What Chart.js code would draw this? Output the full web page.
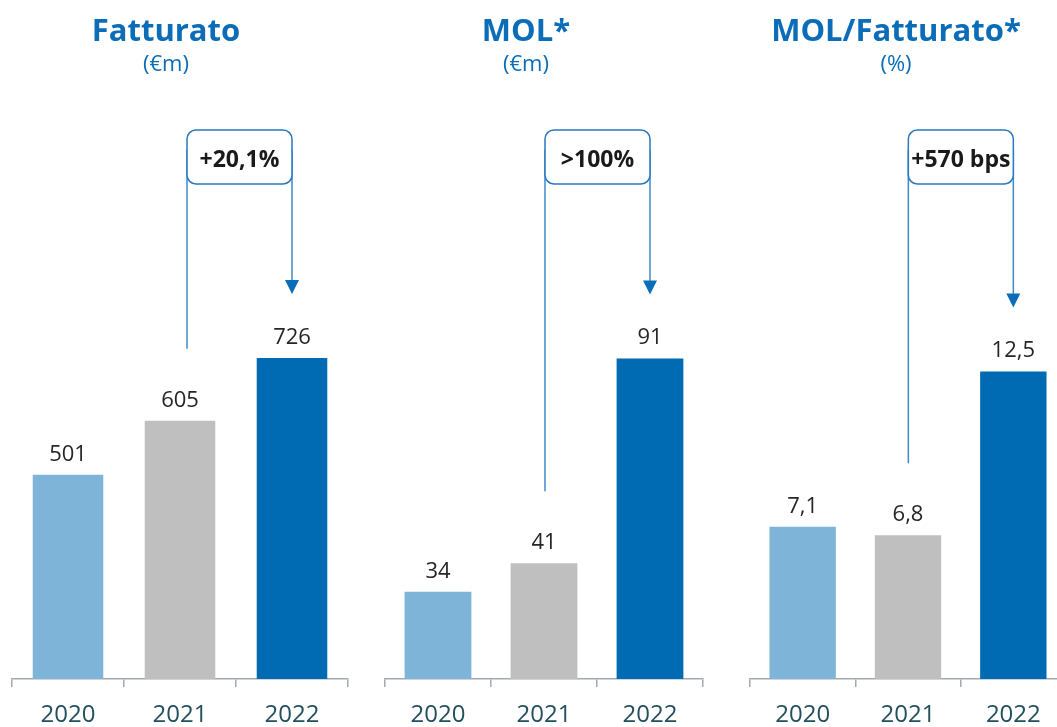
<!DOCTYPE html>
<html>
<head>
<meta charset="utf-8">
<script src="https://cdn.jsdelivr.net/npm/chart.js@4.4.1/dist/chart.umd.min.js"></script>
<style>
body{margin:0;background:#fff;overflow:hidden}
#wrap{position:relative;width:1057px;height:727px;overflow:hidden}
canvas{position:absolute;top:0}
</style>
</head>
<body>
<div id="wrap">
<canvas id="c1" width="360" height="744" style="left:0px"></canvas>
<canvas id="c2" width="342" height="744" style="left:373px"></canvas>
<canvas id="c3" width="340" height="744" style="left:738px"></canvas>
</div>
<script>
// data
var years = ["2020", "2021", "2022"]
var fatturato = [501, 605, 726]
var mol = [34, 41, 91]
var molFatturato = [7.1, 6.8, 12.5]
var titles = ["Fatturato", "MOL*", "MOL/Fatturato*"]
var subtitles = ["(€m)", "(€m)", "(%)"]
var deltas = ["+20,1%", ">100%", "+570 bps"]
// value axis ranges (axis is hidden, bars do not start at zero)
var axisMin = [106.3, 12.72, 1.804]
var axisMax = [1224.5, 154.1, 21.94]

var barColors = ["#7FB4D9", "#BFBFBF", "#006AB3"]
var blue = "#0B6DB7"
var font = '"Open Sans", "Noto Sans", sans-serif'

function fmt(v) {
    return String(v).replace(".", ",")
}

var decor = {
    id: "decor",
    afterDatasetsDraw: function(chart, args, opts) {
        var ctx = chart.ctx
        var bars = chart.getDatasetMeta(0).data
        var vals = chart.data.datasets[0].data
        ctx.save()
        ctx.textAlign = "center"
        ctx.textBaseline = "alphabetic"

        // titles
        ctx.fillStyle = blue
        ctx.font = "bold 31px " + font
        ctx.fillText(opts.title, opts.titleX, 41)
        ctx.font = "22px " + font
        ctx.fillText(opts.sub, opts.titleX, 71)

        // value labels
        ctx.fillStyle = "#262626"
        ctx.font = "22px " + font
        for (var i = 0; i < bars.length; i++) {
            ctx.fillText(fmt(vals[i]), bars[i].x, bars[i].y - 14)
        }

        // growth box + arrow
        var right = bars[2].x
        var left = right - 105
        var top = 130, bottom = 184
        var tipY = bars[2].y - 64
        ctx.strokeStyle = "#3F8BC9"
        ctx.lineWidth = 1.5
        ctx.beginPath()
        ctx.moveTo(left, top + 20)
        ctx.lineTo(left, bars[1].y - 72)
        ctx.moveTo(right, top + 20)
        ctx.lineTo(right, tipY - 12)
        ctx.stroke()

        ctx.fillStyle = blue
        ctx.beginPath()
        ctx.moveTo(right - 7, tipY - 14)
        ctx.lineTo(right + 7, tipY - 14)
        ctx.lineTo(right, tipY)
        ctx.closePath()
        ctx.fill()

        ctx.beginPath()
        ctx.roundRect(left, top, right - left, bottom - top, 9)
        ctx.fillStyle = "#fff"
        ctx.fill()
        ctx.strokeStyle = "#2A78BE"
        ctx.stroke()

        ctx.fillStyle = "#1A1A1A"
        ctx.font = "bold 23px " + font
        ctx.textBaseline = "middle"
        ctx.fillText(opts.delta, (left + right) / 2, 160)
        ctx.restore()
    }
}

function makeChart(id, values, n, titleX) {
    return new Chart(document.getElementById(id), {
        type: "bar",
        data: {
            labels: years,
            datasets: [{
                data: values,
                backgroundColor: barColors,
                barPercentage: 0.63,
                categoryPercentage: 1
            }]
        },
        options: {
            responsive: false,
            animation: false,
            devicePixelRatio: 1,
            layout: { padding: { left: 12, right: 12, top: 100, bottom: 1 } },
            plugins: {
                legend: { display: false },
                tooltip: { enabled: false },
                decor: { title: titles[n], sub: subtitles[n], delta: deltas[n], titleX: titleX }
            },
            scales: {
                x: {
                    grid: { offset: true, drawOnChartArea: false, drawTicks: true, tickLength: 8, color: "#A3A9AD", lineWidth: 1.5 },
                    border: { display: true, color: "#A3A9AD", width: 1.5 },
                    ticks: { color: "#23505E", font: { family: font, size: 24, lineHeight: 1 }, padding: 16 }
                },
                y: { display: false, min: axisMin[n], max: axisMax[n] }
            }
        },
        plugins: [decor]
    })
}

makeChart("c1", fatturato, 0, 166)
makeChart("c2", mol, 1, 153)
makeChart("c3", molFatturato, 2, 158)
</script>
</body>
</html>
